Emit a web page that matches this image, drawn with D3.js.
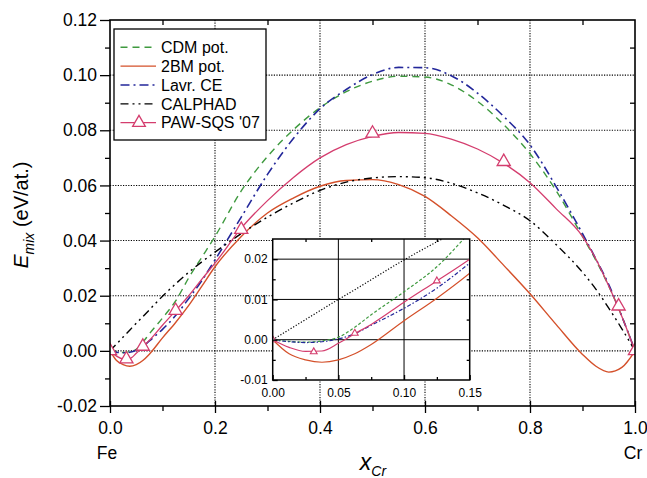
<!DOCTYPE html>
<html>
<head>
<meta charset="utf-8">
<script src="https://d3js.org/d3.v7.min.js"></script>
<style>
body { margin: 0; background: #fff; }
svg, svg text { font-family: "Liberation Sans", Arial, sans-serif; }
svg { display: block; }
</style>
</head>
<body>
<div id="chart"></div>
<script>
// Mixing energy of Fe-Cr

// composition grid shared by all curves
const xCr = [0, 0.0125, 0.025, 0.0375, 0.05, 0.0625, 0.075, 0.1, 0.125, 0.15, 0.175, 0.2,
    0.25, 0.3, 0.35, 0.4, 0.45, 0.5, 0.55, 0.6, 0.65, 0.7, 0.75, 0.8, 0.85, 0.9, 0.925, 0.95, 0.975, 1.0];

const cdmPot = [0, -0.0004, -0.0006, -0.0003, 0.0006, 0.0031, 0.0062, 0.0119, 0.0181, 0.0265, 0.034, 0.0415,
    0.058, 0.0705, 0.0803, 0.0882, 0.094, 0.0978, 0.0996, 0.0993, 0.0965, 0.0905, 0.082, 0.0715, 0.058, 0.0415, 0.033, 0.0235, 0.0125, 0];

const bm2Pot = [0, -0.0035, -0.005, -0.0056, -0.005, -0.0035, -0.0012, 0.0047, 0.0103, 0.0165, 0.0235, 0.0305,
    0.0415, 0.05, 0.0555, 0.0597, 0.0618, 0.0621, 0.0603, 0.056, 0.049, 0.041, 0.031, 0.0207, 0.0095, -0.0013, -0.0055, -0.0077, -0.006, 0];

const lavrCE = [0, -0.0005, -0.0007, -0.0005, 0.0002, 0.0015, 0.0036, 0.0078, 0.0128, 0.019, 0.0255, 0.033,
    0.0485, 0.064, 0.0772, 0.0878, 0.0948, 0.1002, 0.1028, 0.1027, 0.0998, 0.0935, 0.085, 0.0747, 0.0595, 0.0425, 0.0335, 0.024, 0.0125, 0];

const calphad = [0, 0.0025, 0.005, 0.0075, 0.01, 0.0124, 0.0149, 0.0198, 0.0243, 0.0285, 0.0323, 0.0358,
    0.0425, 0.0485, 0.0537, 0.0582, 0.0612, 0.0627, 0.0632, 0.0628, 0.0608, 0.0573, 0.0528, 0.0472, 0.0385, 0.0285, 0.0225, 0.0155, 0.008, 0];

const pawFit = [0, -0.0019, -0.0029, -0.0028, -0.0009, 0.0015, 0.0038, 0.0093, 0.0146, 0.02, 0.026, 0.0318,
    0.0445, 0.0545, 0.063, 0.07, 0.0748, 0.0778, 0.0792, 0.0789, 0.0768, 0.0732, 0.068, 0.061, 0.0515, 0.0415, 0.0335, 0.0235, 0.0125, 0];

// PAW-SQS '07 calculated points
const pawX = [0, 0.03125, 0.0625, 0.125, 0.25, 0.5, 0.75, 0.96875, 1.0];
const pawE = [0, -0.003, 0.0016, 0.0146, 0.044, 0.0789, 0.0686, 0.0162, 0];

const xTicks = [0, 0.2, 0.4, 0.6, 0.8, 1.0];
const xMinor = [0.1, 0.3, 0.5, 0.7, 0.9];
const yTicks = [-0.02, 0, 0.02, 0.04, 0.06, 0.08, 0.10, 0.12];
const yMinor = [-0.01, 0.01, 0.03, 0.05, 0.07, 0.09, 0.11];
const insetXTicks = [0, 0.05, 0.10, 0.15];
const insetXMinor = [0.025, 0.075, 0.125];
const insetYTicks = [-0.01, 0, 0.01, 0.02];
const insetYMinor = [-0.005, 0.005, 0.015];

const series = [
    { name: 'CDM pot.', values: cdmPot, color: '#3f9a3f', dash: '7,5', insetDash: '3,2', width: 1.4 },
    { name: '2BM pot.', values: bm2Pot, color: '#d4502a', dash: null, insetDash: null, width: 1.4 },
    { name: 'Lavr. CE', values: lavrCE, color: '#23279a', dash: '9,4,2,4', insetDash: '4,2,1.5,2', width: 1.6 },
    { name: 'CALPHAD', values: calphad, color: '#000000', dash: '8,4,2,4,2,4', insetDash: '1.2,1.8', width: 1.4 },
    { name: "PAW-SQS '07", values: pawFit, color: '#d43d6e', dash: null, insetDash: null, width: 1.3, marker: true }
];

const W = 647, H = 478;
const margin = { top: 20, left: 110 };
const width = 525, height = 386;

const svg = d3.select('#chart').append('svg')
    .attr('width', W)
    .attr('height', H);

const g = svg.append('g')
    .attr('transform', `translate(${margin.left},${margin.top})`);

const x = d3.scaleLinear().domain([0, 1]).range([0, width]);
const y = d3.scaleLinear().domain([-0.02, 0.12]).range([height, 0]);

g.append('clipPath').attr('id', 'main-clip')
    .append('rect').attr('width', width).attr('height', height);

// Dotted grid
const grid = g.append('g').attr('stroke', '#000').attr('stroke-width', 1.1).attr('stroke-dasharray', '1.2,1.4');
grid.selectAll('.gx').data([0.2, 0.4, 0.6, 0.8]).enter().append('line')
    .attr('x1', d => x(d)).attr('x2', d => x(d)).attr('y1', 0).attr('y2', height);
grid.selectAll('.gy').data([0, 0.02, 0.04, 0.06, 0.08, 0.10]).enter().append('line')
    .attr('y1', d => y(d)).attr('y2', d => y(d)).attr('x1', 0).attr('x2', width);

// Curves
const plot = g.append('g').attr('clip-path', 'url(#main-clip)');
series.forEach(s => {
    const line = d3.line()
        .x((d, i) => x(xCr[i]))
        .y(d => y(d))
        .curve(d3.curveMonotoneX);
    plot.append('path')
        .datum(s.values)
        .attr('fill', 'none')
        .attr('stroke', s.color)
        .attr('stroke-width', s.width)
        .attr('stroke-dasharray', s.dash)
        .attr('d', line);
});

const tri = d3.symbol().type(d3.symbolTriangle);
plot.selectAll('.paw')
    .data(pawX)
    .enter()
    .append('path')
    .attr('transform', (d, i) => `translate(${x(d)},${y(pawE[i])})`)
    .attr('d', tri.size(75)())
    .attr('fill', '#fff')
    .attr('stroke', '#d43d6e')
    .attr('stroke-width', 1.3);

// Axes
const fmt2 = d => d.toFixed(2);
const fmt1 = d => d.toFixed(1);

function styleAxis(sel, fontSize) {
    sel.attr('font-family', null);
    sel.select('.domain').remove();
    sel.selectAll('.tick line').attr('stroke', '#000').attr('stroke-width', 1.3);
    sel.selectAll('.tick text').attr('fill', '#000').attr('font-size', fontSize);
}

g.append('g').call(d3.axisLeft(y).tickValues(yTicks).tickSize(10).tickPadding(3).tickFormat(fmt2))
    .call(s => styleAxis(s, '17.5px'));
g.append('g').call(d3.axisLeft(y).tickValues(yMinor).tickSize(5).tickFormat(''))
    .call(s => styleAxis(s, '1px'));
g.append('g').attr('transform', `translate(${width},0)`)
    .call(d3.axisRight(y).tickValues(yMinor).tickSize(-5).tickFormat(''))
    .call(s => styleAxis(s, '1px'));

g.append('g').attr('transform', `translate(0,${height})`)
    .call(d3.axisBottom(x).tickValues(xTicks).tickSize(7).tickPadding(9).tickFormat(fmt1))
    .call(s => styleAxis(s, '17.5px'));
g.append('g').attr('transform', `translate(0,${height})`)
    .call(d3.axisBottom(x).tickValues(xTicks).tickSize(-5).tickFormat(''))
    .call(s => styleAxis(s, '1px'));
g.append('g').attr('transform', `translate(0,${height})`)
    .call(d3.axisBottom(x).tickValues(xMinor).tickSize(5).tickFormat(''))
    .call(s => styleAxis(s, '1px'));
g.append('g')
    .call(d3.axisTop(x).tickValues(xMinor).tickSize(-5).tickFormat(''))
    .call(s => styleAxis(s, '1px'));

// Frame
g.append('rect')
    .attr('width', width).attr('height', height)
    .attr('fill', 'none').attr('stroke', '#000').attr('stroke-width', 1.6);

// Element labels under the axis ends
g.append('text').attr('x', x(0) - 3).attr('y', 459 - margin.top)
    .attr('text-anchor', 'middle').attr('font-size', '17.5px').text('Fe');
g.append('text').attr('x', x(1) - 2).attr('y', 459 - margin.top)
    .attr('text-anchor', 'middle').attr('font-size', '17.5px').text('Cr');

// Axis titles
const xTitle = svg.append('text')
    .attr('x', 373).attr('y', 470)
    .attr('text-anchor', 'middle')
    .attr('font-style', 'italic');
xTitle.append('tspan').attr('font-size', '23px').text('x');
xTitle.append('tspan').attr('font-size', '14px').attr('dy', 6).text('Cr');

const yTitle = svg.append('text')
    .attr('transform', 'translate(28,215) rotate(-90)')
    .attr('text-anchor', 'middle');
yTitle.append('tspan').attr('font-size', '21px').attr('font-style', 'italic').text('E');
yTitle.append('tspan').attr('font-size', '14px').attr('font-style', 'italic').attr('dy', 6).text('mix');
yTitle.append('tspan').attr('font-size', '20px').attr('dy', -6).text(' (eV/at.)');

// Legend
const legend = svg.append('g').attr('transform', 'translate(114,29)');
legend.append('rect')
    .attr('width', 152).attr('height', 111)
    .attr('fill', '#fff').attr('stroke', '#000').attr('stroke-width', 1.3);
series.forEach((s, i) => {
    const ly = 18.3 + i * 18.85;
    legend.append('line')
        .attr('x1', 6.5).attr('x2', 42).attr('y1', ly).attr('y2', ly)
        .attr('stroke', s.color).attr('stroke-width', s.width)
        .attr('stroke-dasharray', s.dash);
    if (s.marker) {
        legend.append('path')
            .attr('transform', `translate(25,${ly})`)
            .attr('d', tri.size(70)())
            .attr('fill', '#fff').attr('stroke', s.color).attr('stroke-width', 1.3);
    }
    legend.append('text')
        .attr('x', 47).attr('y', ly).attr('dy', '0.36em')
        .attr('font-size', '16px').text(s.name);
});

// Inset: zoom on the Fe-rich end
const inset = svg.append('g').attr('transform', 'translate(272.7,239)');
const iw = 197, ih = 141;
const xi = d3.scaleLinear().domain([0, 0.15]).range([0, iw]);
const yi = d3.scaleLinear().domain([-0.01, 0.025]).range([ih, 0]);

inset.append('rect').attr('width', iw).attr('height', ih).attr('fill', '#fff');
inset.append('clipPath').attr('id', 'inset-clip')
    .append('rect').attr('width', iw).attr('height', ih);

const igrid = inset.append('g').attr('stroke', '#000').attr('stroke-width', 1);
igrid.selectAll('.gx').data([0.05, 0.10]).enter().append('line')
    .attr('x1', d => xi(d)).attr('x2', d => xi(d)).attr('y1', 0).attr('y2', ih);
igrid.selectAll('.gy').data([0, 0.01, 0.02]).enter().append('line')
    .attr('y1', d => yi(d)).attr('y2', d => yi(d)).attr('x1', 0).attr('x2', iw);

const iplot = inset.append('g').attr('clip-path', 'url(#inset-clip)');
series.forEach(s => {
    const line = d3.line()
        .x((d, i) => xi(xCr[i]))
        .y(d => yi(d))
        .curve(d3.curveMonotoneX);
    iplot.append('path')
        .datum(s.values)
        .attr('fill', 'none')
        .attr('stroke', s.color)
        .attr('stroke-width', 1.2)
        .attr('stroke-dasharray', s.insetDash)
        .attr('d', line);
});
iplot.selectAll('.paw')
    .data(pawX.filter(d => d <= 0.15))
    .enter()
    .append('path')
    .attr('transform', (d, i) => `translate(${xi(d)},${yi(pawE[i])})`)
    .attr('d', tri.size(20)())
    .attr('fill', '#fff')
    .attr('stroke', '#d43d6e')
    .attr('stroke-width', 1.1);

inset.append('g').call(d3.axisLeft(yi).tickValues(insetYTicks).tickSize(-5).tickPadding(5).tickFormat(fmt2))
    .call(s => styleAxis(s, '12px'));
inset.append('g').call(d3.axisLeft(yi).tickValues(insetYMinor).tickSize(-3).tickFormat(''))
    .call(s => styleAxis(s, '1px'));
inset.append('g').attr('transform', `translate(0,${ih})`)
    .call(d3.axisBottom(xi).tickValues(insetXTicks).tickSize(-5).tickPadding(8.5).tickFormat(fmt2))
    .call(s => styleAxis(s, '12px'));
inset.append('g').attr('transform', `translate(0,${ih})`)
    .call(d3.axisBottom(xi).tickValues(insetXMinor).tickSize(-3).tickFormat(''))
    .call(s => styleAxis(s, '1px'));
inset.append('g').attr('transform', `translate(${iw},0)`)
    .call(d3.axisRight(yi).tickValues(insetYMinor).tickSize(-3).tickFormat(''))
    .call(s => styleAxis(s, '1px'));
inset.append('g')
    .call(d3.axisTop(xi).tickValues(insetXMinor).tickSize(-3).tickFormat(''))
    .call(s => styleAxis(s, '1px'));

inset.append('rect')
    .attr('width', iw).attr('height', ih)
    .attr('fill', 'none').attr('stroke', '#000').attr('stroke-width', 1.5);
</script>
</body>
</html>
